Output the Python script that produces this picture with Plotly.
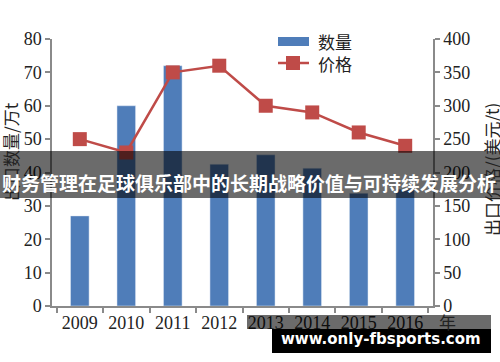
import plotly.graph_objects as go

years = ["2009", "2010", "2011", "2012", "2013", "2014", "2015", "2016"]
quantity = [27, 60, 72, 42.5, 45.3, 41.3, 33.8, 35]
price = [250, 230, 350, 360, 300, 290, 260, 240]

bar_color = "#4F7DB9"
line_color = "#BF4B48"
serif = "Liberation Serif, Times New Roman, serif"
cjk = "Noto Sans CJK SC"

fig = go.Figure()
fig.add_trace(go.Bar(x=years, y=quantity, name="数量", marker_color=bar_color,
                     width=0.4, yaxis="y", showlegend=False))
fig.add_trace(go.Scatter(x=years, y=price, name="价格", mode="lines+markers",
                         line=dict(color=line_color, width=2.5),
                         marker=dict(symbol="square", size=14, color=line_color),
                         yaxis="y2", showlegend=False))

axis_common = dict(showline=True, linecolor="#8a8a8a", linewidth=1.5, ticks="outside",
                   ticklen=5, tickcolor="#8a8a8a", tickwidth=1.5, showgrid=False,
                   zeroline=False, tickfont=dict(family=serif, size=18, color="#222"))

fig.update_layout(
    width=500, height=362,
    margin=dict(l=52, r=67, t=39, b=56),
    paper_bgcolor="white", plot_bgcolor="white",
    xaxis=dict(**axis_common, type="category", tickson="boundaries"),
    yaxis=dict(**axis_common, range=[0, 80], dtick=10),
    yaxis2=dict(**axis_common, range=[0, 400], dtick=50, overlaying="y", side="right"),
)

shapes = []
annotations = []
# legend
shapes.append(dict(type="rect", xref="paper", yref="paper",
                   x0=(278-52)/381, x1=(309-52)/381, y0=(306-46)/267, y1=(306-37)/267,
                   fillcolor=bar_color, line=dict(width=0)))
shapes.append(dict(type="line", xref="paper", yref="paper",
                   x0=(278-52)/381, x1=(309-52)/381, y0=(306-63)/267, y1=(306-63)/267,
                   line=dict(color=line_color, width=2.5)))
shapes.append(dict(type="rect", xref="paper", yref="paper",
                   x0=(286-52)/381, x1=(300-52)/381, y0=(306-70)/267, y1=(306-56)/267,
                   fillcolor=line_color, line=dict(width=0)))
annotations.append(dict(text="数量", xref="paper", yref="paper", x=(316-52)/381, y=(306-41)/267,
                        xanchor="left", yanchor="middle", showarrow=False,
                        font=dict(family=cjk, size=17, color="#222")))
annotations.append(dict(text="价格", xref="paper", yref="paper", x=(316-52)/381, y=(306-63)/267,
                        xanchor="left", yanchor="middle", showarrow=False,
                        font=dict(family=cjk, size=17, color="#222")))
# axis titles
annotations.append(dict(text="出口数量/万t", xref="paper", yref="paper", x=(10-52)/381,
                        y=(306-152)/267, xanchor="center", yanchor="middle", textangle=-90,
                        showarrow=False, font=dict(family=cjk, size=17, color="#222")))
annotations.append(dict(text="出口价格/(美元/t)", xref="paper", yref="paper", x=(491-52)/381,
                        y=(306-170)/267, xanchor="center", yanchor="middle", textangle=-90,
                        showarrow=False, font=dict(family=cjk, size=17, color="#222")))
annotations.append(dict(text="年", xref="paper", yref="paper", x=(447-52)/381,
                        y=(306-321)/267, xanchor="center", yanchor="middle",
                        showarrow=False, font=dict(family=cjk, size=17, color="#222")))
# banner overlay
shapes.append(dict(type="rect", xref="paper", yref="paper", layer="above",
                   x0=-52/381, x1=(500-52)/381, y0=(306-198)/267, y1=(306-151)/267,
                   fillcolor="rgba(0,0,0,0.58)", line=dict(width=0)))
annotations.append(dict(text="<b>财务管理在足球俱乐部中的长期战略价值与可持续发展分析</b>",
                        xref="paper", yref="paper", x=(249-52)/381, y=(306-182)/267,
                        xanchor="center", yanchor="middle", showarrow=False,
                        font=dict(family=cjk, size=19, color="white")))
# watermark
shapes.append(dict(type="rect", xref="paper", yref="paper", layer="above",
                   x0=(247-52)/381, x1=(491-52)/381, y0=(306-329)/267, y1=(306-315)/267,
                   fillcolor="rgba(0,0,0,0.58)", line=dict(width=0)))
shapes.append(dict(type="rect", xref="paper", yref="paper", layer="above",
                   x0=(272-52)/381, x1=(491-52)/381, y0=(306-353)/267, y1=(306-329)/267,
                   fillcolor="black", line=dict(width=0)))
annotations.append(dict(text="<b>www.only-fbsports.com</b>", xref="paper", yref="paper",
                        x=(381-52)/381, y=(306-339)/267, xanchor="center", yanchor="middle",
                        showarrow=False, font=dict(family="DejaVu Sans", size=15, color="white")))

fig.update_layout(shapes=shapes, annotations=annotations)
fig.write_html("out.html")
